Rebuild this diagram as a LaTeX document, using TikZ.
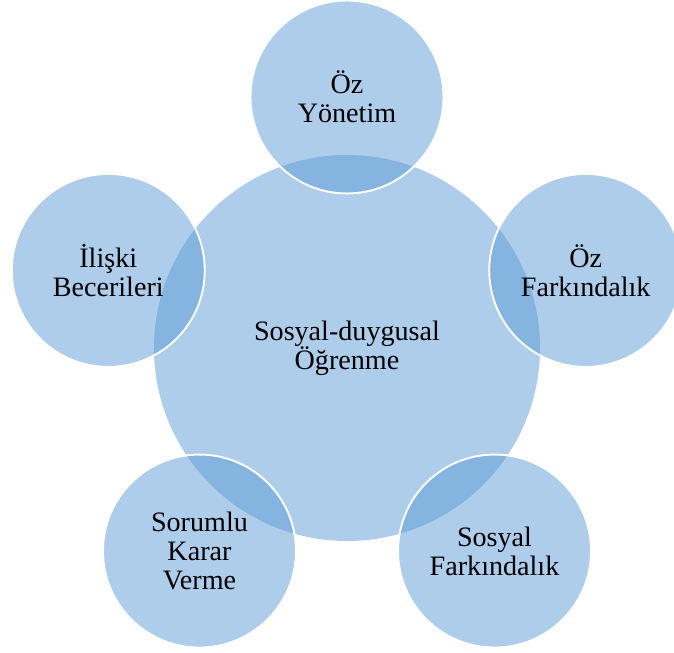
\documentclass[tikz,border=0pt]{standalone}
\usepackage{fontspec}
\setmainfont{Liberation Serif}
\definecolor{vennblue}{RGB}{91,155,213}
\begin{document}
\begin{tikzpicture}[
      every node/.style={circle, inner sep=0pt, align=center, fill=vennblue,
        fill opacity=0.5, text opacity=1, font=\fontsize{16}{16.5}\selectfont},
      outer/.style={draw=white, line width=1.1pt, minimum size=3.86cm}
    ]
    \useasboundingbox (-6.94,-6.10) rectangle (6.54,6.96);

    % centre circle
    \node[minimum size=7.72cm] (SDO) at (0,0) {Sosyal-duygusal\\Öğrenme};

    % five circles round it
    \node[outer] (OY) at (90:5.02) {Öz\\Yönetim};
    \node[outer] (OF) at (18:5.02) {Öz\\Farkındalık};
    \node[outer] (SF) at (-54:5.02) {Sosyal\\Farkındalık};
    \node[outer] (SKV) at (-126:5.02) {Sorumlu\\Karar\\Verme};
    \node[outer] (IB) at (162:5.02) {İlişki\\Becerileri};

\end{tikzpicture}
\end{document}
